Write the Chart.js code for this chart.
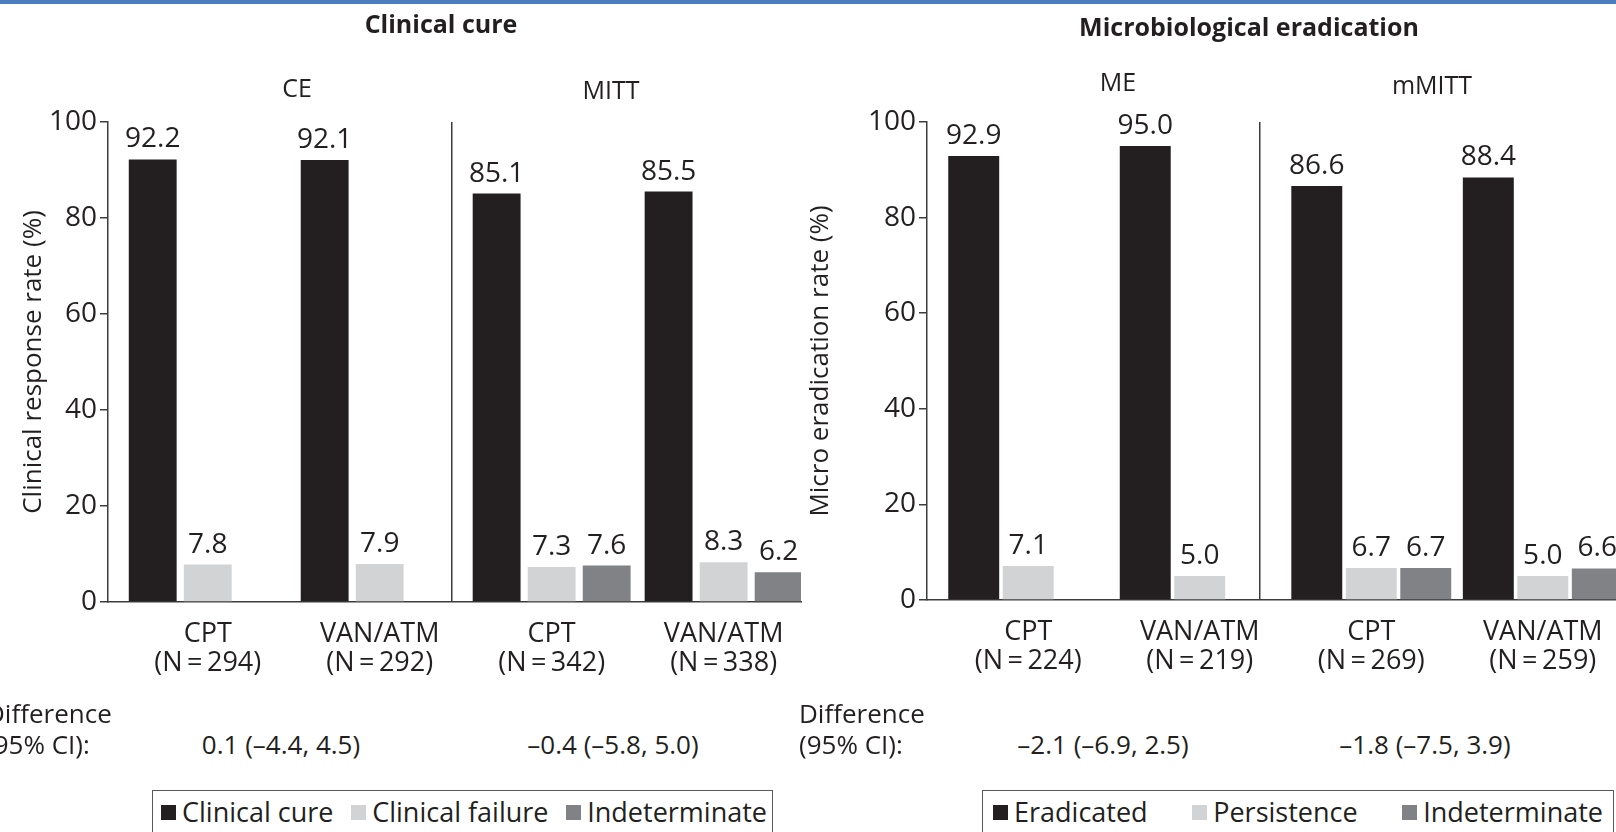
<!DOCTYPE html>
<html>
<head>
<meta charset="utf-8">
<title>Clinical cure and microbiological eradication</title>
<script src="https://cdn.jsdelivr.net/npm/chart.js@4.4.1/dist/chart.umd.min.js"></script>
<style>
  html, body { margin: 0; padding: 0; width: 1616px; height: 832px; overflow: hidden; background: #fff; }
  body { position: relative; font-family: 'Open Sans', sans-serif; color: #231f20; }
  .band { position: absolute; left: 0; top: 0; width: 1616px; height: 4px; background: #4a7ebf; }
  canvas { position: absolute; top: 0; }
  .t { position: absolute; white-space: nowrap; font-size: 26px; line-height: 26px; }
  .s { font-size: 25px; line-height: 25px; }
  .c { transform: translateX(-50%); }
  .b { font-weight: 700; font-size: 25px; line-height: 25px; }
  .legend { position: absolute; top: 790px; height: 60px; box-sizing: border-box; border: 1.5px solid #58595b;
            display: flex; justify-content: space-between; align-items: flex-start; padding-top: 5px; }
  .legend .item { font-size: 27px; line-height: 32px; display: flex; align-items: center; white-space: nowrap; }
  .legend .sw { display: inline-block; width: 15px; height: 15px; margin-right: 6px; }
</style>
</head>
<body>
<div class="band"></div>

<canvas id="clinical" width="808" height="700" style="left:0px"></canvas>
<canvas id="micro" width="840" height="700" style="left:800px"></canvas>

<div class="t b c" style="left:441px; top:11px">Clinical cure</div>
<div class="t b c" style="left:1249px; top:14px">Microbiological eradication</div>

<div class="t s c" style="left:297px; top:75px">CE</div>
<div class="t s c" style="left:611px; top:77px">MITT</div>
<div class="t s c" style="left:1118px; top:69px">ME</div>
<div class="t s c" style="left:1432px; top:72px">mMITT</div>

<div class="t" style="left:-14px; top:700px">Difference</div>
<div class="t" style="left:-14px; top:731px">(95% CI):</div>
<div class="t c" style="left:281px; top:731px" id="diffC0"></div>
<div class="t c" style="left:613px; top:731px" id="diffC1"></div>

<div class="t" style="left:799px; top:700px">Difference</div>
<div class="t" style="left:799px; top:731px">(95% CI):</div>
<div class="t c" style="left:1103px; top:731px" id="diffM0"></div>
<div class="t c" style="left:1425px; top:731px" id="diffM1"></div>

<div class="legend" id="legendC" style="left:152px; width:621px; padding-left:8px; padding-right:5px"></div>
<div class="legend" id="legendM" style="left:982px; width:632px; padding-left:10px; padding-right:10px"></div>

<script>
// ---- Clinical cure (CE and MITT populations) ----
const clinicalGroups = ['CPT', 'VAN/ATM', 'CPT', 'VAN/ATM'];
const clinicalN = [294, 292, 342, 338];
const clinicalCure = [92.2, 92.1, 85.1, 85.5];
const clinicalFailure = [7.8, 7.9, 7.3, 8.3];
const clinicalIndeterminate = [null, null, 7.6, 6.2];
const clinicalDifference = ['0.1 (\u20134.4, 4.5)', '\u20130.4 (\u20135.8, 5.0)'];

// ---- Microbiological eradication (ME and mMITT populations) ----
const microGroups = ['CPT', 'VAN/ATM', 'CPT', 'VAN/ATM'];
const microN = [224, 219, 269, 259];
const eradicated = [92.9, 95.0, 86.6, 88.4];
const persistence = [7.1, 5.0, 6.7, 5.0];
const microIndeterminate = [null, null, 6.7, 6.6];
const microDifference = ['\u20132.1 (\u20136.9, 2.5)', '\u20131.8 (\u20137.5, 3.9)'];

const yTicks = [0, 20, 40, 60, 80, 100];

const TEXT = '#231f20';
const AXIS = '#3c3c3e';
const BLACK = '#231f20';
const LIGHT = '#d1d3d4';
const GREY = '#808285';

Chart.defaults.font.family = "'Open Sans', sans-serif";
Chart.defaults.font.size = 26;
Chart.defaults.color = TEXT;

// Percentages printed above every bar
const valueLabels = {
  id: 'valueLabels',
  afterDatasetsDraw(chart) {
    const ctx = chart.ctx;
    ctx.save();
    ctx.font = "28px 'Open Sans', sans-serif";
    ctx.fillStyle = TEXT;
    ctx.textAlign = 'center';
    ctx.textBaseline = 'alphabetic';
    chart.data.datasets.forEach((ds, i) => {
      const meta = chart.getDatasetMeta(i);
      meta.data.forEach((bar, j) => {
        const v = ds.data[j].y;
        if (v === null || v === undefined) return;
        ctx.fillText(v.toFixed(1), bar.x, bar.y - 12);
      });
    });
    ctx.restore();
  }
};

function buildChart(canvas, p) {
  const positions = p.groups.map((_, i) => i);
  return new Chart(canvas, {
    type: 'bar',
    data: {
      datasets: p.series.map(s => ({
        label: s.label,
        data: s.values.map((v, i) => ({ x: i, y: v })),
        backgroundColor: s.color,
        borderWidth: 0,
        xAxisID: 'x',
        yAxisID: 'y',
        categoryPercentage: p.catPct,
        barPercentage: p.barPct
      }))
    },
    options: {
      responsive: false,
      animation: false,
      layout: { padding: { top: p.top, right: p.right, bottom: 0, left: 0 } },
      plugins: { legend: { display: false }, tooltip: { enabled: false } },
      scales: {
        x: {
          type: 'linear',
          position: 'bottom',
          bounds: 'data',
          offset: false,
          min: p.xMin,
          max: p.xMax,
          afterBuildTicks: s => { s.ticks = positions.map(v => ({ value: v })); },
          afterFit: s => { s.height = p.xHeight; },
          grid: { display: false, drawTicks: false, offset: false },
          border: { color: AXIS, width: 1.5 },
          ticks: {
            padding: 17,
            autoSkip: false,
            maxRotation: 0,
            color: TEXT,
            font: { size: 27, lineHeight: 1.1 },
            callback: v => [p.groups[v], '(N\u2009=\u2009' + p.n[v] + ')']
          }
        },
        // panel separator between the two populations
        split: {
          type: 'linear',
          position: 'top',
          bounds: 'data',
          offset: false,
          min: p.xMin,
          max: p.xMax,
          afterBuildTicks: s => { s.ticks = [{ value: p.split }]; },
          afterFit: s => { s.height = 0; },
          ticks: { display: false },
          grid: { drawTicks: false, offset: false, color: AXIS, lineWidth: 1.5 },
          border: { display: false }
        },
        y: {
          min: 0,
          max: 100,
          afterBuildTicks: s => { s.ticks = yTicks.map(v => ({ value: v })); },
          afterFit: s => { s.width = p.yWidth; },
          grid: { drawOnChartArea: false, drawTicks: true, tickLength: 8, color: AXIS, lineWidth: 1.5 },
          border: { color: AXIS, width: 1.5 },
          ticks: { padding: 3, color: TEXT, font: { size: 28 } },
          title: {
            display: true,
            text: p.yTitle,
            color: TEXT,
            font: { size: 26 },
            padding: { top: p.titlePad, bottom: 0 }
          }
        }
      }
    },
    plugins: [valueLabels]
  });
}

const clinicalSeries = [
  { label: 'Clinical cure', values: clinicalCure, color: BLACK },
  { label: 'Clinical failure', values: clinicalFailure, color: LIGHT },
  { label: 'Indeterminate', values: clinicalIndeterminate, color: GREY }
];
const microSeries = [
  { label: 'Eradicated', values: eradicated, color: BLACK },
  { label: 'Persistence', values: persistence, color: LIGHT },
  { label: 'Indeterminate', values: microIndeterminate, color: GREY }
];

buildChart(document.getElementById('clinical'), {
  groups: clinicalGroups, n: clinicalN, series: clinicalSeries,
  yTitle: 'Clinical response rate (%)',
  top: 122, right: 7, yWidth: 108, xHeight: 98,
  xMin: -0.58, xMax: 3.45, split: 1.42,
  catPct: 0.96, barPct: 0.87, titlePad: 18
});

buildChart(document.getElementById('micro'), {
  groups: microGroups, n: microN, series: microSeries,
  yTitle: 'Micro eradication rate (%)',
  top: 122, right: 20, yWidth: 127, xHeight: 100,
  xMin: -0.59, xMax: 3.45, split: 1.35,
  catPct: 0.953, barPct: 0.935, titlePad: 5
});

function fillLegend(el, series) {
  series.forEach(s => {
    const item = document.createElement('span');
    item.className = 'item';
    const sw = document.createElement('span');
    sw.className = 'sw';
    sw.style.background = s.color;
    item.appendChild(sw);
    item.appendChild(document.createTextNode(s.label));
    el.appendChild(item);
  });
}
fillLegend(document.getElementById('legendC'), clinicalSeries);
fillLegend(document.getElementById('legendM'), microSeries);

document.getElementById('diffC0').textContent = clinicalDifference[0];
document.getElementById('diffC1').textContent = clinicalDifference[1];
document.getElementById('diffM0').textContent = microDifference[0];
document.getElementById('diffM1').textContent = microDifference[1];
</script>
</body>
</html>
